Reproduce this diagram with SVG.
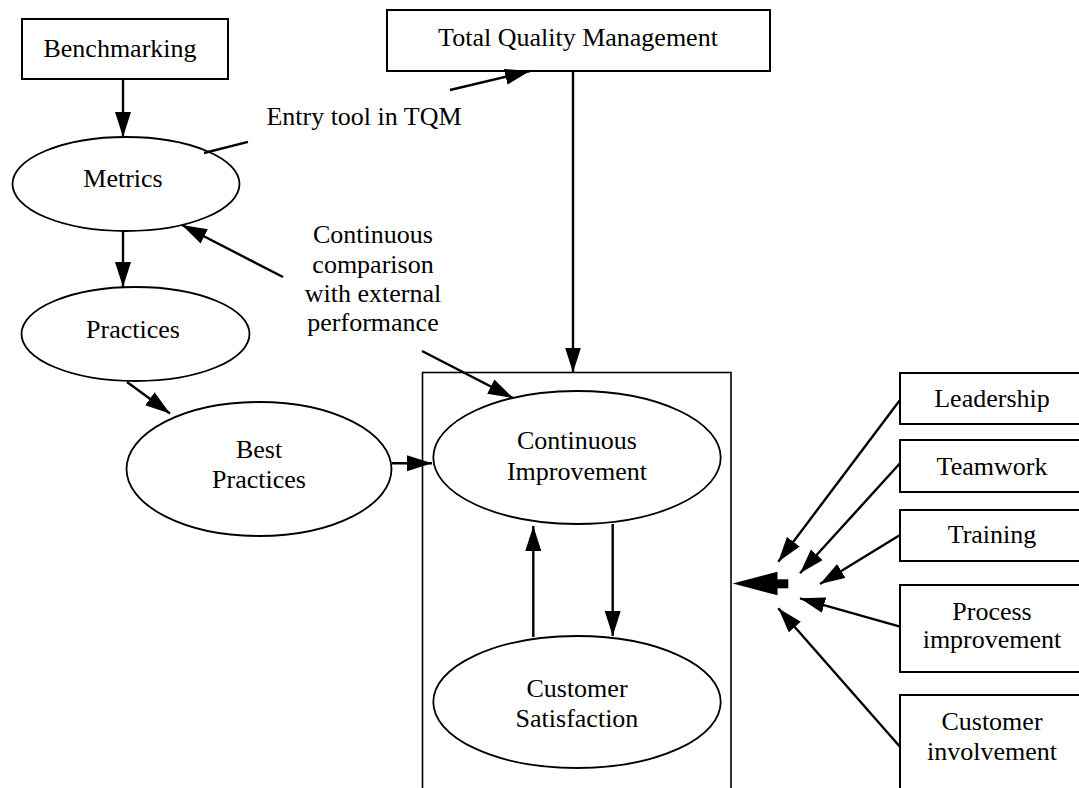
<svg xmlns="http://www.w3.org/2000/svg" width="1079" height="788" viewBox="0 0 1079 788">
  <style>
    .box { fill: #fff; stroke: #000; stroke-width: 2; }
    .oval { fill: #fff; stroke: #000; stroke-width: 1.8; }
    .frame { fill: none; stroke: #000; stroke-width: 1.6; }
    .lbl { font-family: "Liberation Serif", "Times New Roman", serif; font-size: 26px; fill: #000; text-anchor: middle; }
    .edge { fill: none; stroke: #000; stroke-width: 2.4; }
    .arr { marker-end: url(#head); }
  </style>
  <defs>
    <marker id="head" markerUnits="userSpaceOnUse" markerWidth="26" markerHeight="17" refX="25" refY="8" orient="auto">
      <path d="M0,0 L25,8 L0,16 z" fill="#000"/>
    </marker>
  </defs>

  <rect width="1079" height="788" fill="#fff"/>

  <!-- enclosing frame for the improvement loop -->
  <rect id="loop-frame" class="frame" x="422.5" y="372.5" width="308.5" height="430"/>

  <g id="benchmarking">
    <rect class="box" x="22" y="19" width="206" height="60"/>
    <text class="lbl" x="120" y="57">Benchmarking</text>
  </g>
  <g id="tqm">
    <rect class="box" x="387" y="10" width="383" height="61"/>
    <text class="lbl" x="578" y="46">Total Quality Management</text>
  </g>
  <g id="metrics">
    <ellipse class="oval" cx="126" cy="184" rx="113.5" ry="47"/>
    <text class="lbl" x="123" y="187">Metrics</text>
  </g>
  <g id="practices">
    <ellipse class="oval" cx="135.5" cy="334" rx="114" ry="47"/>
    <text class="lbl" x="133" y="338">Practices</text>
  </g>
  <g id="best-practices">
    <ellipse class="oval" cx="259" cy="469" rx="132.5" ry="67"/>
    <text class="lbl" x="259" y="458">Best</text>
    <text class="lbl" x="259" y="488">Practices</text>
  </g>
  <g id="continuous-improvement">
    <ellipse class="oval" cx="577" cy="457.5" rx="143.7" ry="66.5"/>
    <text class="lbl" x="577" y="449">Continuous</text>
    <text class="lbl" x="577" y="480">Improvement</text>
  </g>
  <g id="customer-satisfaction">
    <ellipse class="oval" cx="577" cy="702" rx="143.7" ry="66"/>
    <text class="lbl" x="577" y="697">Customer</text>
    <text class="lbl" x="577" y="727">Satisfaction</text>
  </g>
  <g id="leadership">
    <rect class="box" x="900" y="373" width="190" height="51"/>
    <text class="lbl" x="992" y="407">Leadership</text>
  </g>
  <g id="teamwork">
    <rect class="box" x="900" y="440" width="190" height="52"/>
    <text class="lbl" x="992" y="475">Teamwork</text>
  </g>
  <g id="training">
    <rect class="box" x="900" y="510" width="190" height="51"/>
    <text class="lbl" x="992" y="543">Training</text>
  </g>
  <g id="process-improvement">
    <rect class="box" x="900" y="585" width="190" height="87"/>
    <text class="lbl" x="992" y="620">Process</text>
    <text class="lbl" x="992" y="648">improvement</text>
  </g>
  <g id="customer-involvement">
    <rect class="box" x="900" y="695" width="190" height="110"/>
    <text class="lbl" x="992" y="730">Customer</text>
    <text class="lbl" x="992" y="760">involvement</text>
  </g>

  <g id="edge-labels">
    <text class="lbl" x="364" y="125">Entry tool in TQM</text>
    <text class="lbl" x="373" y="243">Continuous</text>
    <text class="lbl" x="373" y="273">comparison</text>
    <text class="lbl" x="373" y="302">with external</text>
    <text class="lbl" x="373" y="331">performance</text>
  </g>

  <g id="connectors">
    <line class="edge arr" x1="123" y1="79" x2="123" y2="137"/>
    <line class="edge arr" x1="123" y1="231" x2="123" y2="287"/>
    <line class="edge arr" x1="127" y1="382" x2="170" y2="413.5"/>
    <line class="edge arr" x1="392" y1="463.3" x2="432" y2="463.3"/>
    <line class="edge arr" x1="573" y1="71" x2="573" y2="372.5"/>
    <!-- entry tool: metrics to TQM, broken by its label -->
    <line class="edge" x1="204" y1="153" x2="248" y2="141.8"/>
    <line class="edge arr" x1="450" y1="90" x2="530" y2="71"/>
    <!-- continuous comparison: label to metrics and to continuous improvement -->
    <line class="edge arr" x1="283" y1="277" x2="182" y2="225"/>
    <line class="edge arr" x1="422" y1="351" x2="513" y2="398"/>
    <!-- improvement loop -->
    <line class="edge arr" x1="533.3" y1="637" x2="533.3" y2="526"/>
    <line class="edge arr" x1="612.7" y1="524" x2="612.7" y2="636"/>
    <!-- enablers -->
    <line class="edge arr" x1="900" y1="400" x2="778.3" y2="561.7"/>
    <line class="edge arr" x1="900" y1="463.3" x2="800" y2="573.3"/>
    <line class="edge arr" x1="900" y1="535" x2="820" y2="584"/>
    <line class="edge arr" x1="900" y1="626.7" x2="800" y2="598.3"/>
    <line class="edge arr" x1="900" y1="746.7" x2="778.3" y2="608.3"/>
    <!-- combined enabler arrow into the frame -->
    <line x1="776" y1="583.8" x2="788.3" y2="583.8" stroke="#000" stroke-width="9"/>
    <path d="M732.7,583.5 L777.5,571.7 L777.5,595.3 z" fill="#000"/>
  </g>
</svg>
